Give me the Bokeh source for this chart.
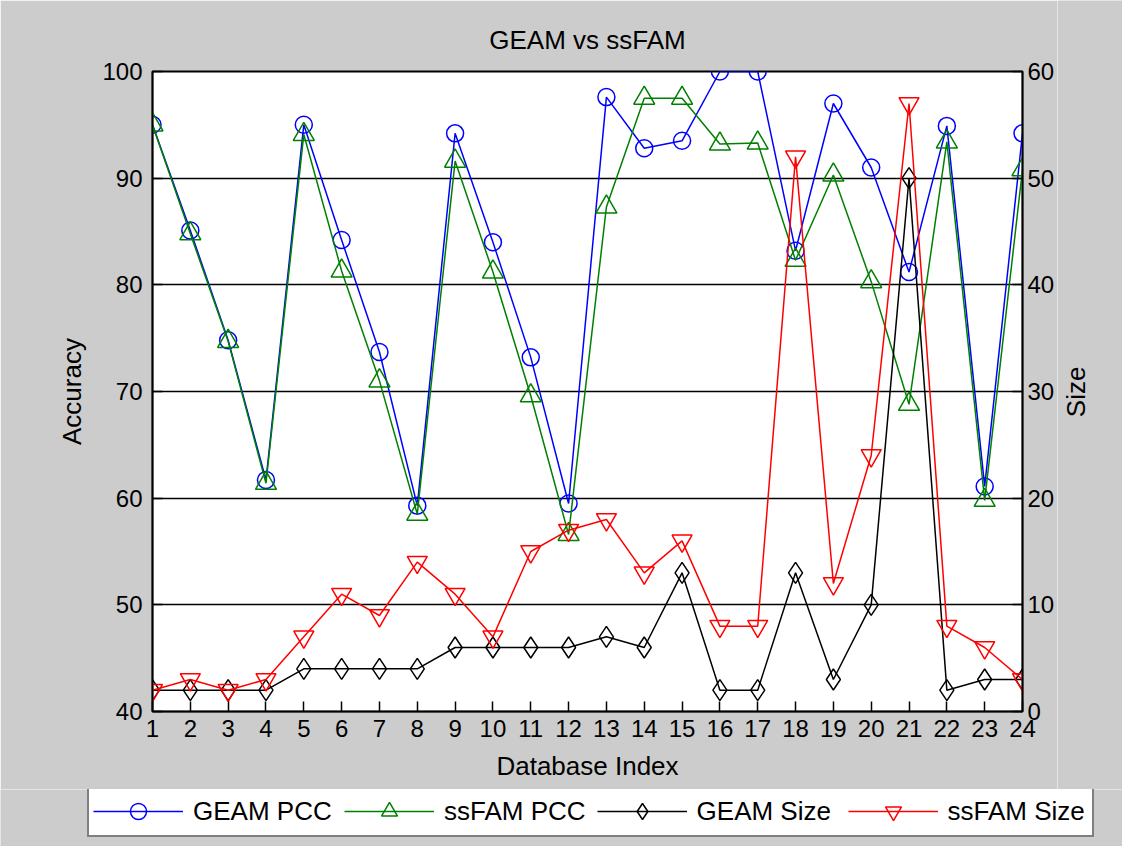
import math

from bokeh.plotting import figure
from bokeh.layouts import column, row
from bokeh.models import Range1d, LinearAxis, FixedTicker, Legend, LegendItem, Label
from bokeh.embed import file_html
from bokeh.resources import INLINE

# Database index (x axis)
db_index = list(range(1, 25))

# Classification accuracy (left axis, %)
geam_pcc = [95.0, 85.1, 74.8, 61.7, 95.0, 84.2, 73.7, 59.3, 94.2, 84.0, 73.2, 59.5,
            97.6, 92.8, 93.5, 100.0, 100.0, 83.2, 97.0, 91.0, 81.2, 94.9, 61.1, 94.2]
ssfam_pcc = [95.0, 84.8, 74.7, 61.4, 94.1, 81.3, 71.0, 58.5, 91.6, 81.2, 69.6, 56.6,
             87.3, 97.5, 97.5, 93.2, 93.3, 82.3, 90.3, 80.3, 68.8, 93.4, 59.8, 90.8]

# Network size (right axis)
geam_size = [2, 2, 2, 2, 4, 4, 4, 4, 6, 6, 6, 6, 7, 6, 13, 2, 2, 13, 3, 10, 50, 2, 3, 3]
ssfam_size = [2, 3, 2, 3, 7, 11, 9, 14, 11, 7, 15, 17, 18, 13, 16, 8, 8, 52, 12, 24, 57, 8, 6, 3]

acc_ticks = [40, 50, 60, 70, 80, 90, 100]
size_ticks = [0, 10, 20, 30, 40, 50, 60]

series_labels = ["GEAM PCC", "ssFAM PCC", "GEAM Size", "ssFAM Size"]
series_colors = ["blue", "green", "black", "red"]
series_markers = ["circle", "triangle", "diamond", "inverted_triangle"]
series_sizes = [17, 21, 21, 20]

FONT = "Liberation Sans"
BG = "#cccccc"
LW = 1.5

p = figure(
    frame_width=870, frame_height=640,
    x_range=Range1d(1, 24), y_range=Range1d(40, 100),
    min_border_left=152, min_border_right=34,
    min_border_top=71, min_border_bottom=78,
    background_fill_color="white", border_fill_color=BG,
    outline_line_color="black", outline_line_width=2,
    title="GEAM vs ssFAM",
    output_backend="svg", toolbar_location=None,
)
p.extra_y_ranges = {"size": Range1d(0, 60)}

# title
p.title.align = "center"
p.title.text_font = FONT
p.title.text_font_size = "26px"
p.title.text_font_style = "normal"
p.title.text_color = "black"
p.title.standoff = 34


def style_axis(ax, standoff, label_standoff):
    ax.axis_line_color = "black"
    ax.axis_line_width = 1.5
    ax.major_tick_line_color = "black"
    ax.major_tick_line_width = 1.5
    ax.major_tick_in = 10
    ax.major_tick_out = 0
    ax.minor_tick_line_color = None
    ax.major_label_text_font = FONT
    ax.major_label_text_font_size = "24px"
    ax.major_label_text_color = "black"
    ax.major_label_standoff = standoff
    ax.axis_label_text_font = FONT
    ax.axis_label_text_font_size = "26px"
    ax.axis_label_text_font_style = "normal"
    ax.axis_label_text_color = "black"
    ax.axis_label_standoff = label_standoff


p.xaxis.ticker = FixedTicker(ticks=db_index)
p.xaxis.axis_label = "Database Index"
style_axis(p.xaxis[0], 8, 11)

p.yaxis.ticker = FixedTicker(ticks=acc_ticks)
p.yaxis.axis_label = "Accuracy"
style_axis(p.yaxis[0], 10, 12)

right_axis = LinearAxis(y_range_name="size", ticker=FixedTicker(ticks=size_ticks))
style_axis(right_axis, 5, 8)
p.add_layout(right_axis, "right")

p.xgrid.visible = False
p.ygrid.ticker = FixedTicker(ticks=acc_ticks)
p.ygrid.grid_line_color = "black"
p.ygrid.grid_line_width = 1.5

series_y = [geam_pcc, ssfam_pcc, geam_size, ssfam_size]
series_range = ["default", "default", "size", "size"]

for ys, color, marker, msize, rng in zip(series_y, series_colors, series_markers,
                                          series_sizes, series_range):
    p.line(db_index, ys, line_color=color, line_width=LW, y_range_name=rng)
    p.scatter(db_index, ys, marker=marker, size=msize, fill_color=None,
              line_color=color, line_width=LW, y_range_name=rng)


def blank_strip(width, height):
    f = figure(
        width=width, height=height,
        x_range=Range1d(0, 1), y_range=Range1d(0, 1),
        x_axis_type=None, y_axis_type=None,
        min_border=0, min_border_left=0, min_border_right=0,
        min_border_top=0, min_border_bottom=0,
        background_fill_color=BG, border_fill_color=BG, outline_line_color=None,
        output_backend="svg", toolbar_location=None,
    )
    if "frame_align" in f.properties():
        f.frame_align = False
    f.xgrid.visible = False
    f.ygrid.visible = False
    return f


# right-hand axis title, reading bottom-to-top
size_fig = blank_strip(66, 789)
size_fig.add_layout(Label(
    x=0.28, y=0.504, text="Size", angle=math.pi / 2,
    text_align="center", text_baseline="middle",
    text_font=FONT, text_font_size="26px", text_color="black",
))

# legend strip underneath the axes
leg_fig = blank_strip(1122, 57)

# off-range proxy glyphs that only serve as legend swatches
proxy_x = [5]
proxy_y = [5]
items = []
for label, color, marker, msize in zip(series_labels, series_colors,
                                       series_markers, series_sizes):
    ln = leg_fig.line(x=proxy_x, y=proxy_y, line_color=color, line_width=LW)
    mk = leg_fig.scatter(x=proxy_x, y=proxy_y, marker=marker, size=msize,
                         fill_color=None, line_color=color, line_width=LW)
    items.append(LegendItem(label=label, renderers=[ln, mk]))

legend = Legend(
    items=items,
    orientation="horizontal",
    location=(87, 9),
    glyph_width=90, glyph_height=40,
    label_standoff=10, label_width=140, spacing=11, padding=4,
    border_line_color="black", border_line_width=2,
    background_fill_color="white", background_fill_alpha=1.0,
    label_text_font=FONT, label_text_font_size="26px", label_text_color="black",
)
leg_fig.add_layout(legend)

page = column(row(p, size_fig, spacing=0), leg_fig, spacing=0)

open("out.html", "w").write(file_html(page, INLINE))
